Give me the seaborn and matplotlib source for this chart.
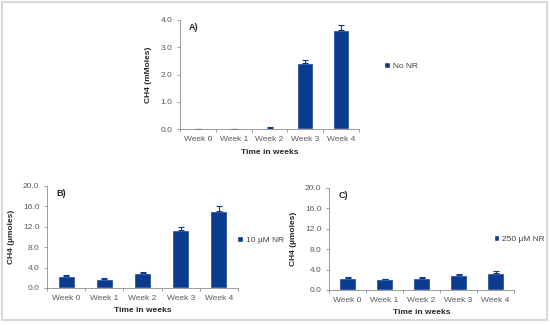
import matplotlib
matplotlib.use("Agg")
import matplotlib.pyplot as plt
import seaborn as sns
import numpy as np
import pandas as pd

# ─── Data ──────────────────────────────────────────────────────────────────────
weeks = ["Week 0", "Week 1", "Week 2", "Week 3", "Week 4"]

no_nr      = [0.0, 0.0, 0.05, 2.42, 3.63]      # mMoles
no_nr_err  = [0.0, 0.0, 0.01, 0.12, 0.19]

nr10       = [2.35, 1.7, 2.9, 11.3, 15.1]      # µmoles
nr10_err   = [0.25, 0.2, 0.25, 0.6, 0.9]

nr250      = [2.35, 2.1, 2.35, 2.9, 3.4]       # µmoles
nr250_err  = [0.15, 0.15, 0.15, 0.2, 0.25]

BAR   = "#0a3b8f"
TICK  = "#595959"
AXIS  = "#8c8c8c"

sns.set_theme(style="white")
plt.rcParams["font.family"] = ["Liberation Sans", "DejaVu Sans"]

fig = plt.figure(figsize=(5.5, 3.25), dpi=100)


def px_axes(left, right, top, bottom):
    W, H = 550, 325
    return fig.add_axes([left / W, 1 - bottom / H, (right - left) / W, (bottom - top) / H])


def panel(ax, vals, errs, label, ylabel, ymax, ystep, tag, leg_xy):
    df = pd.DataFrame({"week": weeks, "value": vals})
    sns.barplot(data=df, x="week", y="value", color=BAR, width=0.44,
                saturation=1, label=label, ax=ax)
    x = np.arange(len(weeks))
    ax.errorbar(x, vals, yerr=[np.zeros(len(errs)), errs], fmt="none",
                ecolor=BAR, elinewidth=0.8, capsize=2.2, capthick=0.8)

    ax.set_xlim(-0.5, len(weeks) - 0.5)
    ax.set_ylim(0, ymax)
    yt = np.arange(0, ymax + ystep / 2, ystep)
    ax.set_yticks(yt)
    ax.set_yticklabels([f"{v:.1f}" for v in yt])
    ax.set_xticks(x, minor=False)
    ax.set_xticks(np.arange(-0.5, len(weeks), 1.0), minor=True)
    ax.tick_params(axis="x", which="major", length=0, labelsize=6,
                   labelcolor=TICK, pad=5)
    ax.tick_params(axis="x", which="minor", length=2.5, color=AXIS, width=0.6,
                   direction="out", bottom=True)
    ax.tick_params(axis="y", length=2.5, color=AXIS, width=0.6, direction="out",
                   left=True, labelsize=6, labelcolor=TICK, pad=3)

    for s in ["top", "right"]:
        ax.spines[s].set_visible(False)
    for s in ["left", "bottom"]:
        ax.spines[s].set_color(AXIS)
        ax.spines[s].set_linewidth(0.6)

    ax.set_xlabel("Time in weeks", fontsize=6, fontweight="bold",
                  color="#262626", labelpad=4)
    ax.set_ylabel(ylabel, fontsize=6, fontweight="bold", color="#262626",
                  labelpad=6)
    ax.text(0.05, 0.97, tag, transform=ax.transAxes, fontsize=6.5,
            fontweight="bold", color="#262626", va="top", ha="left")
    ax.grid(False)
    ax.legend(loc="center left", bbox_to_anchor=leg_xy, frameon=False,
              fontsize=6, labelcolor="#404040", handlelength=0.7,
              handleheight=0.7, handletextpad=0.35, borderpad=0,
              borderaxespad=0)


axA = px_axes(180, 359, 20, 129)
panel(axA, no_nr, no_nr_err, "No NR", "CH4 (mMoles)", 4.0, 1.0, "A)", (1.14, 0.58))

axB = px_axes(47, 238, 186, 288)
panel(axB, nr10, nr10_err, "10 µM NR", "CH4 (µmoles)", 20.0, 4.0, "B)", (0.995, 0.47))

axC = px_axes(329, 514, 188, 290)
panel(axC, nr250, nr250_err, "250 µM NR", "CH4 (µmoles)", 20.0, 4.0, "C)", (0.89, 0.5))

# light grey outer frame
fig.add_artist(plt.Rectangle((1.5 / 550, 1 - 320 / 325), 545 / 550, 318 / 325,
                             transform=fig.transFigure, fill=False,
                             edgecolor="#d9d9d9", linewidth=1.5))

fig.savefig("out.png", dpi=100)
